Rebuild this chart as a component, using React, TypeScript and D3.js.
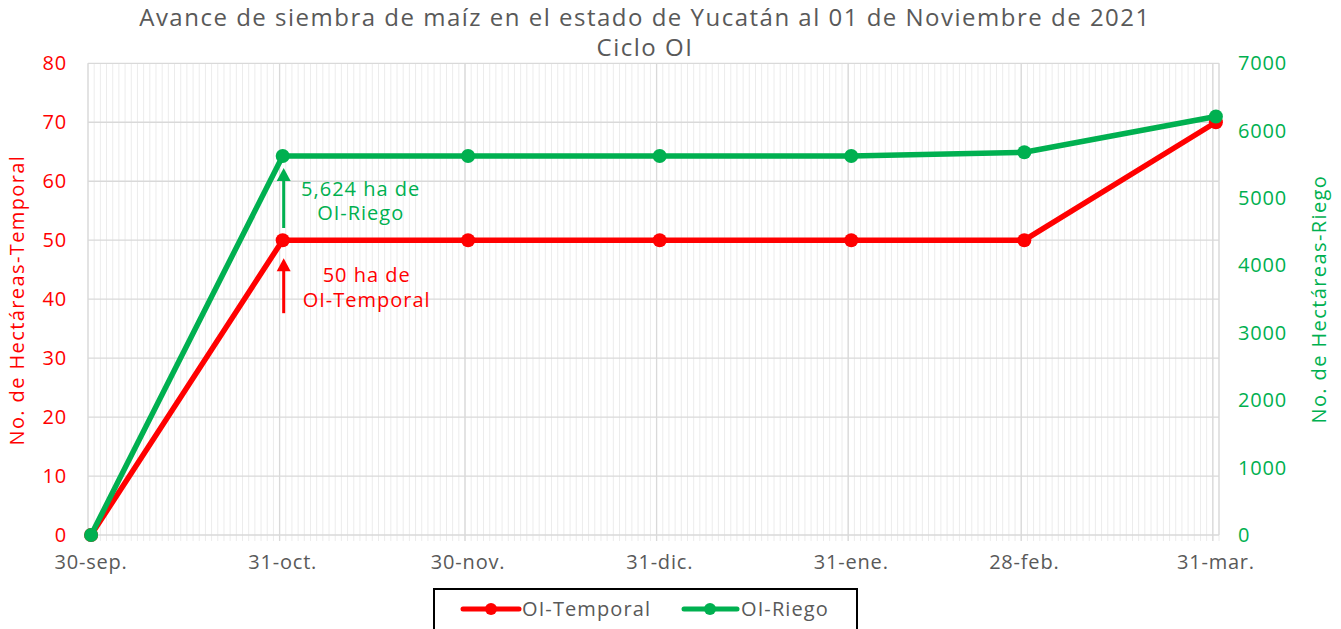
import React from 'react';
import * as d3 from 'd3';

// fechas de corte (inicio de cada día) y valores por serie
const fechas = ['2021-09-30', '2021-10-31', '2021-11-30', '2021-12-31', '2022-01-31', '2022-02-28', '2022-03-31'];
const etiquetasX = ['30-sep.', '31-oct.', '30-nov.', '31-dic.', '31-ene.', '28-feb.', '31-mar.'];
const temporal = [0, 50, 50, 50, 50, 50, 70];
const riego = [0, 5624, 5624, 5624, 5624, 5680, 6210];
const ticksIzq = [0, 10, 20, 30, 40, 50, 60, 70, 80];
const ticksDer = [0, 1000, 2000, 3000, 4000, 5000, 6000, 7000];

const ROJO = '#ff0000';
const VERDE = '#00b050';
const GRIS = '#595959';
const FONT = '"Open Sans", "Noto Sans", sans-serif';

const W = 1341;
const H = 629;
const m = { left: 88, right: 1219, top: 63.3, bottom: 535 };

const parse = d3.utcParse('%Y-%m-%d');

// flecha vertical hacia arriba: punta en yTip, cola en yCola
const flecha = (xf: number, yTip: number, yCola: number) =>
  `M${xf},${yCola} L${xf},${yTip + 12}`;
const punta = (xf: number, yTip: number) =>
  `M${xf},${yTip} L${xf + 7},${yTip + 13} L${xf - 7},${yTip + 13} Z`;

const App: React.FC = () => {
  const dias = fechas.map((f) => parse(f) as Date);
  const inicio = dias[0];
  const fin = d3.utcDay.offset(dias[dias.length - 1], 1);

  const x = d3.scaleUtc().domain([inicio, fin]).range([m.left, m.right]);
  // los puntos van al centro del día (eje de fechas "entre marcas")
  const xc = (d: Date) => x(d3.utcHour.offset(d, 12));
  const yL = d3.scaleLinear().domain([0, 80]).range([m.bottom, m.top]);
  const yR = d3.scaleLinear().domain([0, 7000]).range([m.bottom, m.top]);

  const diasMenores = d3.utcDay.range(inicio, d3.utcDay.offset(fin, 1));

  const lineaT = d3
    .line<number>()
    .x((_, i) => xc(dias[i]))
    .y((d) => yL(d));
  const lineaR = d3
    .line<number>()
    .x((_, i) => xc(dias[i]))
    .y((d) => yR(d));

  const ax = xc(dias[1]) + 1;
  const pT = yL(temporal[1]);
  const pR = yR(riego[1]);

  return (
    <svg width={W} height={H} style={{ position: 'absolute', left: 0, top: 0, background: '#fff' }} fontFamily={FONT}>
      {/* título */}
      <text x={645} y={26} textAnchor="middle" fontSize={24} letterSpacing={1.5} fill={GRIS}>
        Avance de siembra de maíz en el estado de Yucatán al 01 de Noviembre de 2021
      </text>
      <text x={645} y={56} textAnchor="middle" fontSize={24} letterSpacing={1.5} fill={GRIS}>
        Ciclo OI
      </text>

      {/* rejilla menor diaria */}
      <g stroke="#ececec" strokeWidth={1}>
        {diasMenores.map((d, i) => (
          <line key={i} x1={x(d)} x2={x(d)} y1={m.top} y2={m.bottom + 6} />
        ))}
      </g>
      {/* rejilla mayor horizontal */}
      <g stroke="#d9d9d9" strokeWidth={1.3}>
        {ticksIzq.map((t) => (
          <line key={t} x1={m.left} x2={m.right} y1={yL(t)} y2={yL(t)} />
        ))}
      </g>
      {/* rejilla mayor vertical */}
      <g stroke="#d9d9d9" strokeWidth={1.3}>
        {dias.map((d, i) => (
          <line key={i} x1={x(d)} x2={x(d)} y1={m.top} y2={m.bottom + 6} />
        ))}
        <line x1={m.right} x2={m.right} y1={m.top} y2={m.bottom} />
      </g>

      {/* eje izquierdo */}
      <g fill={ROJO} fontSize={20} letterSpacing={0.8} textAnchor="end">
        {ticksIzq.map((t) => (
          <text key={t} x={67} y={yL(t)} dy="0.35em">
            {t}
          </text>
        ))}
      </g>
      <text
        transform={`translate(24, ${(m.top + m.bottom) / 2 + 1}) rotate(-90)`}
        textAnchor="middle"
        fill={ROJO}
        fontSize={20}
        letterSpacing={1.4}
      >
        No. de Hectáreas-Temporal
      </text>

      {/* eje derecho */}
      <g fill={VERDE} fontSize={20} letterSpacing={0.8} textAnchor="start">
        {ticksDer.map((t) => (
          <text key={t} x={1238} y={yR(t)} dy="0.35em">
            {t}
          </text>
        ))}
      </g>
      <text
        transform={`translate(1326, ${(m.top + m.bottom) / 2}) rotate(-90)`}
        textAnchor="middle"
        fill={VERDE}
        fontSize={20}
        letterSpacing={1.4}
      >
        No. de Hectáreas-Riego
      </text>

      {/* eje X */}
      <g fill={GRIS} fontSize={20} letterSpacing={0.8} textAnchor="middle">
        {dias.map((d, i) => (
          <text key={i} x={xc(d)} y={569}>
            {etiquetasX[i]}
          </text>
        ))}
      </g>

      {/* series */}
      <path d={lineaT(temporal) ?? ''} fill="none" stroke={ROJO} strokeWidth={5.5} strokeLinejoin="round" />
      {temporal.map((v, i) => (
        <circle key={i} cx={xc(dias[i])} cy={yL(v)} r={7} fill={ROJO} />
      ))}
      <path d={lineaR(riego) ?? ''} fill="none" stroke={VERDE} strokeWidth={5.5} strokeLinejoin="round" />
      {riego.map((v, i) => (
        <circle key={i} cx={xc(dias[i])} cy={yR(v)} r={7} fill={VERDE} />
      ))}

      {/* anotaciones */}
      <path d={flecha(ax, pR + 12, pR + 72)} stroke={VERDE} strokeWidth={3} />
      <path d={punta(ax, pR + 12)} fill={VERDE} />
      <g fill={VERDE} fontSize={20} letterSpacing={1} textAnchor="middle">
        <text x={ax + 77} y={pR + 40}>
          5,624 ha de
        </text>
        <text x={ax + 77} y={pR + 64}>
          OI-Riego
        </text>
      </g>
      <path d={flecha(ax, pT + 18, pT + 73)} stroke={ROJO} strokeWidth={3} />
      <path d={punta(ax, pT + 18)} fill={ROJO} />
      <g fill={ROJO} fontSize={20} letterSpacing={1} textAnchor="middle">
        <text x={ax + 83} y={pT + 42}>
          50 ha de
        </text>
        <text x={ax + 83} y={pT + 67}>
          OI-Temporal
        </text>
      </g>

      {/* leyenda */}
      <rect x={434} y={589} width={423} height={60} fill="#fff" stroke="#000" strokeWidth={2} />
      <line x1={463} x2={519} y1={609} y2={609} stroke={ROJO} strokeWidth={5} strokeLinecap="round" />
      <circle cx={491} cy={609} r={6} fill={ROJO} />
      <text x={522} y={616} fill={GRIS} fontSize={20} letterSpacing={1.1}>
        OI-Temporal
      </text>
      <line x1={684} x2={737} y1={609} y2={609} stroke={VERDE} strokeWidth={5} strokeLinecap="round" />
      <circle cx={710} cy={609} r={6} fill={VERDE} />
      <text x={741} y={616} fill={GRIS} fontSize={20} letterSpacing={1.1}>
        OI-Riego
      </text>
    </svg>
  );
};

export default App;
